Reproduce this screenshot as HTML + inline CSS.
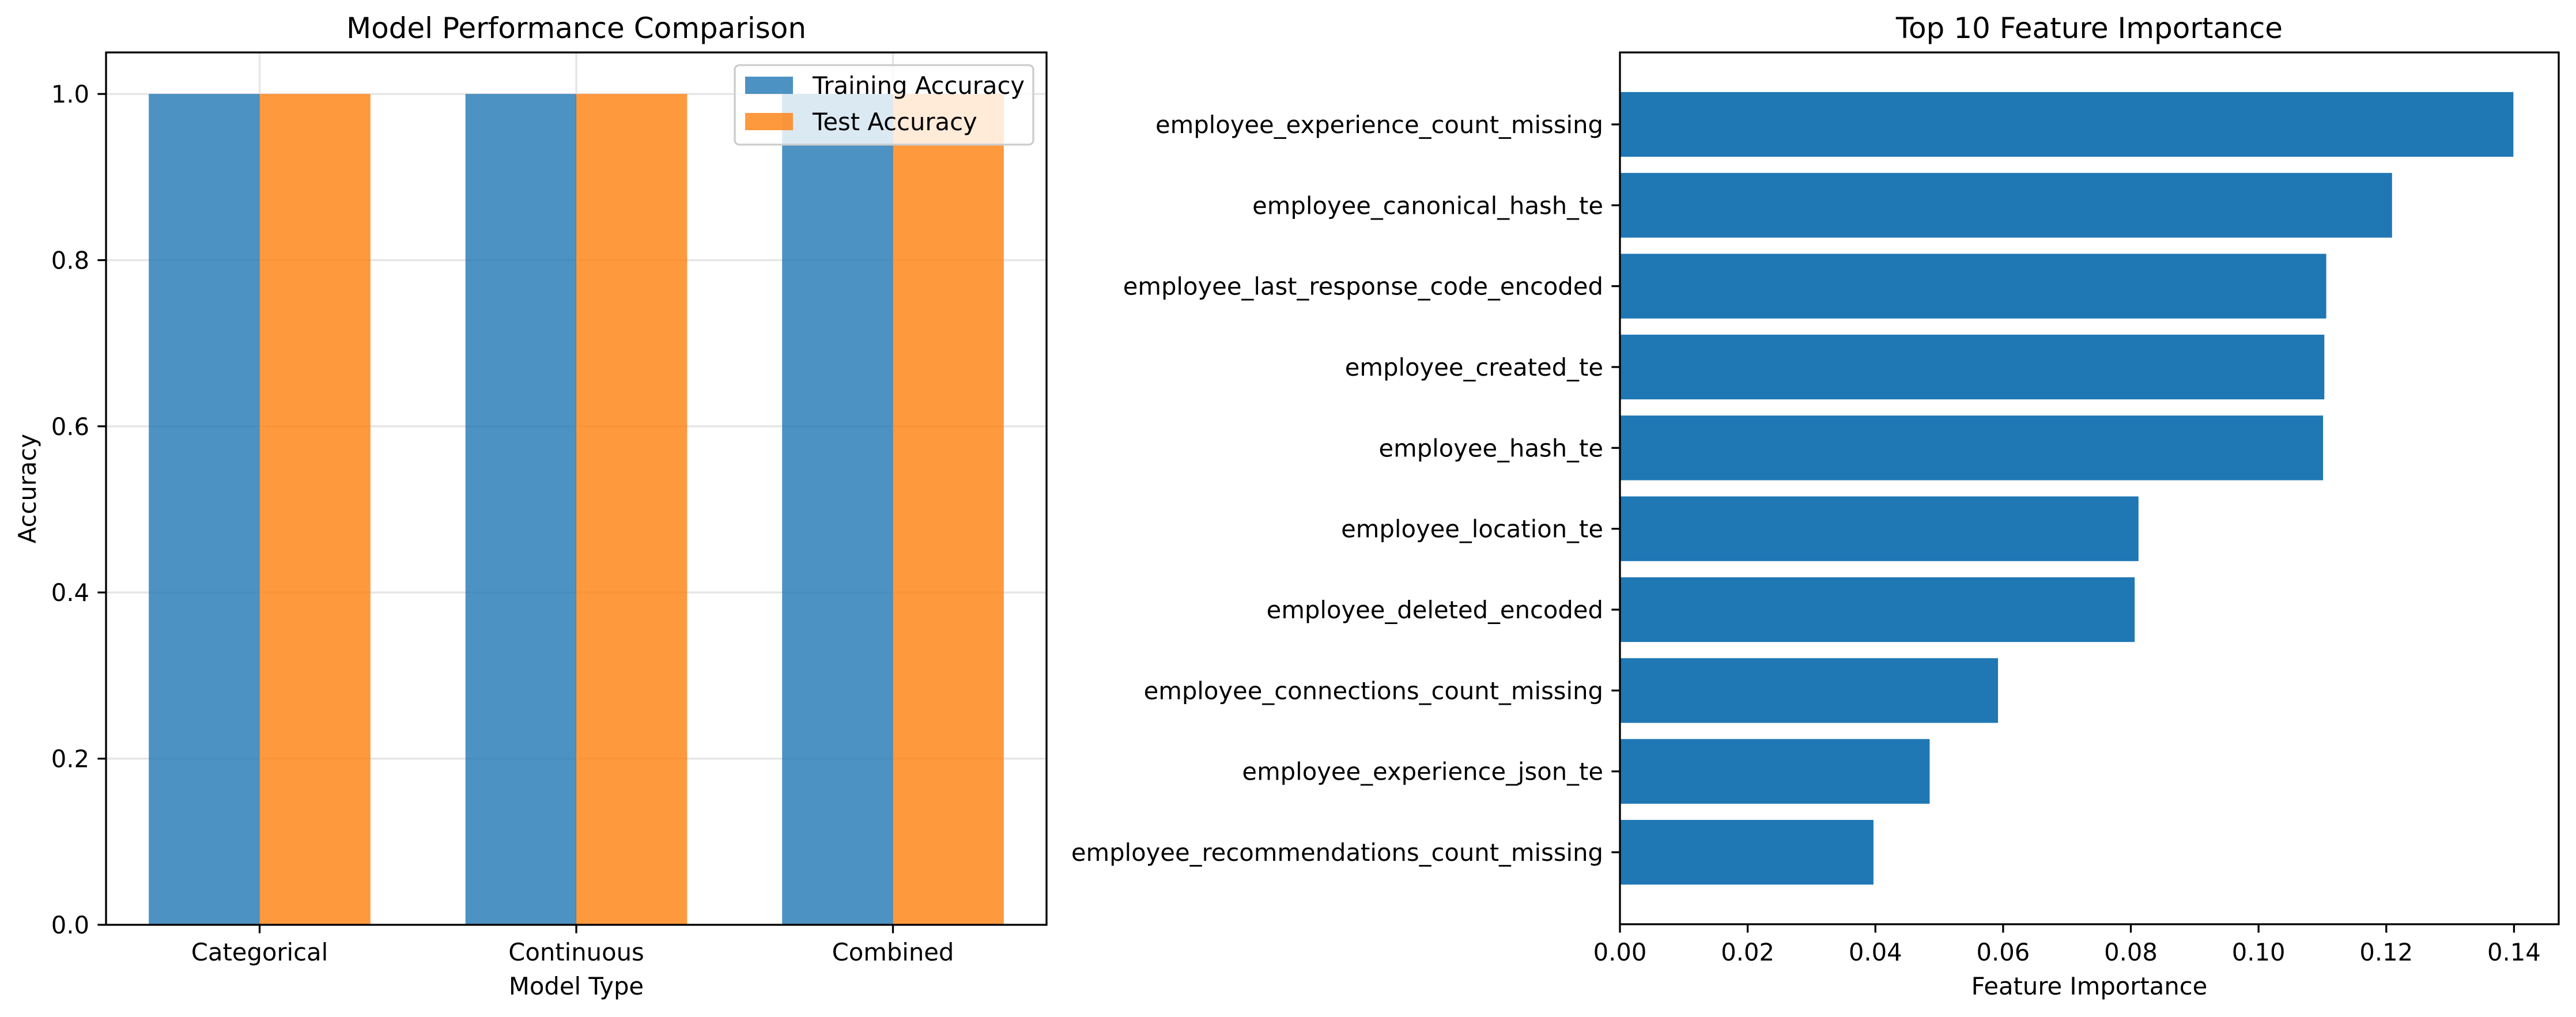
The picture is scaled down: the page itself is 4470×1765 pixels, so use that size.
<!DOCTYPE html>
<html><head><meta charset="utf-8"><style>
html,body{margin:0;padding:0;background:#fff;}
svg{display:block;font-family:"DejaVu Sans","Liberation Sans",sans-serif;}
</style></head><body>
<svg id="fig" width="4470" height="1765" viewBox="0 0 4470 1765" xmlns="http://www.w3.org/2000/svg">
<rect width="4470" height="1765" fill="#fff"/>
<g id="left"></g>
<g id="right"></g>
</svg>
<script>
const modelTypes = ["Categorical", "Continuous", "Combined"];
const trainAcc = [1.0, 1.0, 1.0];
const testAcc = [1.0, 1.0, 1.0];
const accTicks = [0.0, 0.2, 0.4, 0.6, 0.8, 1.0];
const featureNames = ["employee_experience_count_missing","employee_canonical_hash_te","employee_last_response_code_encoded","employee_created_te","employee_hash_te","employee_location_te","employee_deleted_encoded","employee_connections_count_missing","employee_experience_json_te","employee_recommendations_count_missing"];
const featureValues = [0.1399, 0.1209, 0.1106, 0.1103, 0.1101, 0.0812, 0.0806, 0.0592, 0.0485, 0.0397];
const impTicks = [0.00, 0.02, 0.04, 0.06, 0.08, 0.10, 0.12, 0.14];

const NS = "http://www.w3.org/2000/svg";
function mk(parent, tag, attrs, text) {
  const e = document.createElementNS(NS, tag);
  for (const k in attrs) e.setAttribute(k, attrs[k]);
  if (text !== undefined) e.textContent = text;
  parent.appendChild(e);
  return e;
}
const FS = 41.7;

// ---------- Left chart ----------
const L = document.getElementById('left');
const lx0 = 184, lx1 = 1816, ly0 = 1605, ly1 = 91;
const xmin = -0.485, xmax = 2.485, ymaxL = 1.05;
const lxs = v => lx0 + (v - xmin) / (xmax - xmin) * (lx1 - lx0);
const lys = v => ly0 - v / ymaxL * (ly0 - ly1);
const bw = 0.35;
// grid
accTicks.forEach(t => {
  const g = mk(L, 'line', {x1: lx0, x2: lx1, y1: lys(t), y2: lys(t), stroke: '#e6e6e6', 'stroke-width': 3.5});
  
  
});
modelTypes.forEach((m, i) => {
  const g = mk(L, 'line', {x1: lxs(i), x2: lxs(i), y1: ly0, y2: ly1, stroke: '#e6e6e6', 'stroke-width': 3.5});
  
  
});
// bars
modelTypes.forEach((m, i) => {
  const a = mk(L, 'rect', {x: lxs(i - bw), y: lys(trainAcc[i]), width: lxs(i) - lxs(i - bw), height: lys(0) - lys(trainAcc[i]), fill: '#1f77b4', 'fill-opacity': 0.8});
  
  
  const b = mk(L, 'rect', {x: lxs(i), y: lys(testAcc[i]), width: lxs(i + bw) - lxs(i), height: lys(0) - lys(testAcc[i]), fill: '#ff7f0e', 'fill-opacity': 0.8});
  
  
});
// spines
mk(L, 'rect', {x: lx0, y: ly1, width: lx1 - lx0, height: ly0 - ly1, fill: 'none', stroke: '#000', 'stroke-width': 3.3});
// y ticks
accTicks.forEach(t => {
  mk(L, 'line', {x1: lx0 - 14.6, x2: lx0, y1: lys(t), y2: lys(t), stroke: '#000', 'stroke-width': 3.3});
  const tx = mk(L, 'text', {x: lx0 - 29, y: lys(t) + 15, 'font-size': FS, 'text-anchor': 'end'}, t.toFixed(1));
  
  
});
modelTypes.forEach((m, i) => {
  mk(L, 'line', {x1: lxs(i), x2: lxs(i), y1: ly0, y2: ly0 + 14.6, stroke: '#000', 'stroke-width': 3.3});
  const tx = mk(L, 'text', {x: lxs(i), y: 1667, 'font-size': FS, 'text-anchor': 'middle'}, m);
  
  
});
let t1 = mk(L, 'text', {x: (lx0 + lx1) / 2, y: 66, 'font-size': 50, 'text-anchor': 'middle'}, 'Model Performance Comparison');
 
let xl = mk(L, 'text', {x: (lx0 + lx1) / 2, y: 1726, 'font-size': FS, 'text-anchor': 'middle'}, 'Model Type');
 
let yl = mk(L, 'text', {x: 0, y: 0, 'font-size': FS, 'text-anchor': 'middle', transform: 'translate(62,' + ((ly0 + ly1) / 2) + ') rotate(-90)'}, 'Accuracy');
 
// legend
const lg = mk(L, 'g', {});
 
mk(lg, 'rect', {x: 1275, y: 113, width: 518, height: 138, rx: 8, fill: '#fff', 'fill-opacity': 0.8, stroke: '#cccccc', 'stroke-width': 3.3});
let le1 = mk(lg, 'g', {});  
mk(le1, 'rect', {x: 1293, y: 133, width: 83, height: 30, fill: '#1f77b4', 'fill-opacity': 0.8});
mk(le1, 'text', {x: 1410, y: 163, 'font-size': FS}, 'Training Accuracy');
let le2 = mk(lg, 'g', {});  
mk(le2, 'rect', {x: 1293, y: 196, width: 83, height: 30, fill: '#ff7f0e', 'fill-opacity': 0.8});
mk(le2, 'text', {x: 1410, y: 226, 'font-size': FS}, 'Test Accuracy');

// ---------- Right chart ----------
const R = document.getElementById('right');
const rx0 = 2811, rx1 = 4440, ry0 = 1604, ry1 = 91;
const rxmax = 0.147;
const rxs = v => rx0 + v / rxmax * (rx1 - rx0);
const n = featureNames.length;
const rymin = -0.89, rymax = n - 1 + 0.89;
// index 0 at top
const rys = i => ry1 + (i - rymin) / (rymax - rymin) * (ry0 - ry1);
featureNames.forEach((f, i) => {
  const r = mk(R, 'rect', {x: rx0, y: rys(i - 0.4), width: rxs(featureValues[i]) - rx0, height: rys(i + 0.4) - rys(i - 0.4), fill: '#1f77b4'});
  
  
  mk(R, 'line', {x1: rx0 - 14.6, x2: rx0, y1: rys(i), y2: rys(i), stroke: '#000', 'stroke-width': 3.3});
  const tx = mk(R, 'text', {x: rx0 - 29, y: rys(i) + 15, 'font-size': FS, 'text-anchor': 'end'}, f);
  
  
});
mk(R, 'rect', {x: rx0, y: ry1, width: rx1 - rx0, height: ry0 - ry1, fill: 'none', stroke: '#000', 'stroke-width': 3.3});
impTicks.forEach(t => {
  mk(R, 'line', {x1: rxs(t), x2: rxs(t), y1: ry0, y2: ry0 + 14.6, stroke: '#000', 'stroke-width': 3.3});
  const tx = mk(R, 'text', {x: rxs(t), y: 1667, 'font-size': FS, 'text-anchor': 'middle'}, t.toFixed(2));
  
  
});
let t2 = mk(R, 'text', {x: (rx0 + rx1) / 2, y: 66, 'font-size': 50, 'text-anchor': 'middle'}, 'Top 10 Feature Importance');
 
let xl2 = mk(R, 'text', {x: (rx0 + rx1) / 2, y: 1726, 'font-size': FS, 'text-anchor': 'middle'}, 'Feature Importance');
 
</script>
</body></html>
